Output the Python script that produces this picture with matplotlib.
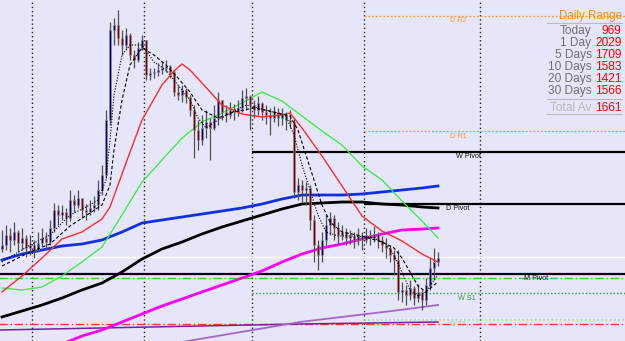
import numpy as np
import matplotlib
matplotlib.use('Agg')
import matplotlib.pyplot as plt

######################################################
# DATI (prezzo in unita' del grafico, indice barra)

first_open = 92
close = [96, 106, 101, 109, 98, 103, 93, 96, 91, 98,
         103, 99, 113, 131, 126, 129, 123, 141, 136, 143,
         131, 129, 133, 136, 151, 166, 221, 311, 316, 303,
         296, 306, 286, 281, 293, 301, 266, 268, 269, 271,
         273, 275, 269, 249, 246, 251, 244, 231, 211, 201,
         213, 219, 213, 223, 241, 229, 226, 231, 229, 233,
         243, 245, 236, 231, 238, 229, 226, 223, 229, 223,
         226, 221, 219, 149, 156, 151, 153, 121, 96, 86,
         101, 116, 123, 113, 106, 109, 103, 105, 101, 105,
         101, 106, 103, 107, 101, 96, 93, 86, 81, 49,
         51, 46, 53, 43, 49, 41, 56, 73, 79, 83]
high = [111, 116, 113, 119, 111, 113, 106, 106, 101, 109,
        113, 109, 121, 138, 136, 136, 133, 151, 146, 151,
        141, 137, 141, 145, 161, 176, 231, 319, 323, 331,
        311, 313, 308, 291, 299, 306, 301, 273, 273, 278,
        279, 281, 276, 271, 256, 256, 253, 246, 236, 221,
        226, 231, 223, 236, 249, 241, 236, 239, 237, 241,
        251, 253, 246, 241, 245, 239, 236, 233, 235, 233,
        233, 229, 231, 223, 163, 161, 159, 156, 126, 101,
        109, 126, 129, 126, 119, 116, 113, 111, 109, 113,
        109, 113, 111, 115, 109, 105, 103, 96, 91, 91,
        59, 56, 61, 55, 57, 51, 63, 83, 93, 89]
low = [89, 91, 89, 96, 89, 91, 84, 86, 83, 89,
       95, 91, 96, 109, 116, 121, 116, 120, 129, 133,
       123, 121, 126, 129, 131, 146, 163, 216, 296, 296,
       286, 291, 281, 273, 279, 291, 261, 261, 263, 265,
       267, 269, 263, 245, 241, 239, 238, 225, 183, 191,
       196, 203, 181, 211, 216, 221, 219, 223, 221, 225,
       229, 231, 211, 223, 226, 221, 217, 206, 219, 215,
       216, 211, 213, 143, 141, 139, 136, 111, 79, 71,
       79, 96, 106, 101, 97, 101, 96, 97, 93, 96,
       91, 98, 96, 99, 93, 89, 83, 79, 66, 41,
       39, 36, 41, 36, 39, 31, 36, 51, 61, 75]

# medie mobili
ma_idx = [0, 5, 10, 15, 20, 25, 30, 35, 40, 45, 50, 55, 60, 65, 70, 75, 80, 85, 90, 95, 100, 105, 109]
red_idx = [0, 5, 10, 15, 20, 25, 27, 29, 31, 35, 40, 43, 45, 47, 50, 55, 60, 65, 70, 72, 75, 80, 85, 90, 95, 100, 105, 109]
ma_red = [49, 65, 83, 102, 109, 122, 134, 156, 178, 221, 256, 270, 277, 271, 258, 236, 227, 224, 226, 228, 213, 185, 155, 125, 110, 100, 87, 79]
ma_green = [53, 51, 54, 65, 79, 94, 126, 159, 181, 203, 219, 228, 238, 249, 240, 225, 210, 196, 175, 161, 140, 120, 103]
ma_blue = [81, 87, 91, 95, 97, 101, 109, 118, 121, 124, 127, 130, 133, 137, 142, 146, 146, 146, 147, 149, 151, 153, 155]
ma_black = [24, 30, 36, 43, 51, 58, 69, 82, 92, 99, 107, 114, 120, 126, 132, 137, 138, 139, 139, 137, 136, 134, 133]
mag_idx = [15, 20, 25, 30, 35, 40, 45, 50, 55, 60, 65, 70, 75, 80, 85, 90, 95, 100, 105, 109]
ma_magenta = [-3, 5, 11, 19, 27, 35, 42, 49, 56, 63, 70, 79, 87, 93, 97, 102, 107, 111, 112, 113]

fast_idx = [0, 7, 12, 17, 22, 24, 26, 27, 28, 30, 32, 35, 38, 41, 44, 47, 49, 51, 54, 57,
            61, 66, 71, 73, 75, 77, 79, 81, 84, 88, 93, 96, 98, 100, 102, 104, 106, 108, 109]
fast_ma = [79, 96, 106, 126, 136, 141, 161, 201, 246, 286, 296, 296, 279, 271, 256, 241, 223, 213, 221, 228,
           236, 231, 225, 206, 176, 151, 126, 109, 105, 105, 103, 97, 86, 69, 51, 45, 49, 61, 66]
slow_idx = [0, 7, 12, 17, 22, 25, 27, 28, 30, 32, 35, 38, 41, 44, 47, 50, 54, 58, 63, 68,
            72, 74, 76, 78, 80, 82, 85, 90, 95, 98, 100, 102, 104, 106, 108, 109]
slow_ma = [75, 89, 97, 115, 128, 136, 156, 191, 241, 276, 293, 286, 276, 263, 249, 231, 223, 229, 233, 229,
           225, 211, 186, 161, 136, 119, 109, 105, 99, 93, 83, 69, 55, 49, 56, 59]

purple_idx = [-0.5, 74.5, 109]
purple_val = [11, 17, 19]
lilac_idx = [45, 74.5, 99.5, 109]
lilac_val = [-1, 19, 31, 36]

day_starts = [7.5, 35.5, 62.5, 90.5, 119.5]
bid = 84

# livelli pivot: nome, prezzo, inizio, colore, stile, spessore
levels = [
    ('D R2', 325, 90.5, '#FF9933', (0, (1.5, 1.5)), 0.9),
    ('D R1', 210, 90.5, '#FF9933', (0, (1.5, 1.5)), 0.9),
    ('W Pivot', 189, 62.5, 'black', '-', 1.6),
    ('D Pivot', 137, 90.5, 'black', '-', 1.6),
    ('M Pivot', 67, -1, 'black', '-', 1.6),
    ('', 63, -1, '#33CC33', (0, (6, 2, 1, 2)), 1.0),
    ('W S1', 48, 62.5, '#339933', (0, (1, 1.5)), 1.0),
    ('D S1', 21, 90.5, '#99E699', (0, (1, 1.5)), 1.2),
    ('', 17, -1, '#FF3333', (0, (6, 2, 1, 2)), 1.0),
]
label_pos = {'D R2': (114, 321), 'D R1': (114, 205), 'W Pivot': (116.5, 185),
             'D Pivot': (114, 132), 'M Pivot': (133.5, 62), 'W S1': (116.3, 43), 'D S1': (114, 17)}
label_col = {'D R2': '#FF9933', 'D R1': '#FF9933', 'W Pivot': '#111111', 'D Pivot': '#111111',
             'M Pivot': '#111111', 'W S1': '#339933', 'D S1': '#88DD88'}

range_labels = ['Today', '1 Day', '5 Days', '10 Days', '20 Days', '30 Days']
range_values = [969, 2029, 1709, 1583, 1421, 1566]
total_avg = 1661

######################################################
# GRAFICO

bg = '#E6E6FA'
fig = plt.figure(figsize=(6.25, 3.41), dpi=100, facecolor=bg)
ax = fig.add_axes([0, 0, 1, 1])
ax.set_facecolor(bg)
ax.set_xlim(-0.5, 155.75)
ax.set_ylim(0, 341)
ax.set_axis_off()

for d in day_starts:
    ax.axvline(d, color='#222222', lw=1, ls=(0, (1, 2)), zorder=1)

ax.axhline(bid, color='white', lw=1, zorder=1)

for name, lev, start, col, ls, lw in levels:
    ax.hlines(lev, start, 156, colors=col, linestyles=[ls], lw=lw, zorder=2)
    if name:
        x, y = label_pos[name]
        ax.text(x, y, name, fontsize=5.2, color=label_col[name], ha='center', va='center',
                family='Liberation Sans', zorder=6)

ax.plot(purple_idx, purple_val, color='#7A1F9A', lw=1.1, zorder=2)
ax.plot(lilac_idx, lilac_val, color='#A566C8', lw=1.3, zorder=2)

ax.plot(ma_idx, ma_black, color='black', lw=2, zorder=3)
ax.plot(ma_idx, ma_blue, color='#1030E0', lw=2, zorder=3)
ax.plot(mag_idx, ma_magenta, color='#FF00FF', lw=2, zorder=3)
ax.plot(ma_idx, ma_green, color='#33EE33', lw=0.9, zorder=3)
ax.plot(red_idx, ma_red, color='#FF2A2A', lw=1.0, zorder=5)

# candele
n = len(close)
idx = np.arange(n)
opens = [first_open] + close[:-1]
up = [c >= o for o, c in zip(opens, close)]
ax.vlines(idx, low, high, colors='#505050', lw=0.9, zorder=4)
bottoms = [min(o, c) for o, c in zip(opens, close)]
heights = [max(abs(c - o), 1) for o, c in zip(opens, close)]
ax.bar(idx, heights, bottom=bottoms, width=0.6,
       color=['#000070' if u else '#7A0000' for u in up],
       edgecolor='#9A9A9A', linewidth=0.4, zorder=4)

ax.plot(fast_idx, fast_ma, color='black', lw=0.8, ls=(0, (1, 1.5)), zorder=5)
ax.plot(slow_idx, slow_ma, color='black', lw=0.8, ls=(0, (3, 2)), zorder=5)

# pannello Daily Range
tr = ax.transAxes
fnt = 'Liberation Sans'
ax.text(0.995, 0.953, 'Daily Range', transform=tr, ha='right', va='center',
        fontsize=8.3, color='#FF8C00', family=fnt, zorder=7)
for yl in (0.933, 0.710, 0.666):
    ax.plot([0.875, 0.995], [yl, yl], transform=tr, color='#BBBBBB', lw=0.8, zorder=7)
row_y = [0.909, 0.874, 0.839, 0.804, 0.768, 0.733]
for lab, val, yy in zip(range_labels, range_values, row_y):
    ax.text(0.9465, yy, lab, transform=tr, ha='right', va='center',
            fontsize=8.6, color='#707070', family=fnt, zorder=7)
    ax.text(0.995, yy, str(val), transform=tr, ha='right', va='center',
            fontsize=8.6, color='#FF0000', family=fnt, zorder=7)
ax.text(0.9465, 0.683, 'Total Av', transform=tr, ha='right', va='center',
        fontsize=8.6, color='#B8B8B8', family=fnt, zorder=7)
ax.text(0.995, 0.683, str(total_avg), transform=tr, ha='right', va='center',
        fontsize=8.6, color='#FF0000', family=fnt, zorder=7)

fig.savefig('out.png', dpi=100, facecolor=bg)
